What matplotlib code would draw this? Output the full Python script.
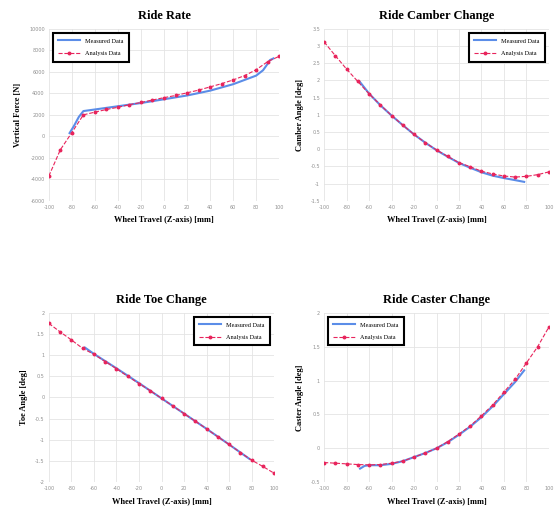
import matplotlib
matplotlib.use('Agg')
import matplotlib.pyplot as plt
import numpy as np

# Wheel travel for the analysis points (every 10 mm)
travel = [-100, -90, -80, -70, -60, -50, -40, -30, -20, -10, 0,
          10, 20, 30, 40, 50, 60, 70, 80, 90, 100]

# Ride rate
rate_analysis = [-3700, -1250, 350, 2000, 2250, 2500, 2700, 2950, 3150, 3380, 3600,
                 3800, 4050, 4300, 4600, 4900, 5250, 5650, 6200, 6950, 7450]
rate_meas_x = [-82, -78, -74, -70, -60, -40, -20, 0, 20, 40, 60, 80, 86, 89, 92, 95]
rate_meas_y = [300, 1000, 1800, 2350, 2500, 2800, 3100, 3450, 3800, 4250, 4850, 5650, 6150, 6600, 7100, 7250]

# Camber
camber_analysis = [3.12, 2.72, 2.33, 1.97, 1.61, 1.29, 0.98, 0.70, 0.43, 0.19, -0.02,
                   -0.21, -0.39, -0.51, -0.64, -0.72, -0.78, -0.81, -0.79, -0.74, -0.66]
camber_meas_x = [-68, -60, -50, -40, -30, -20, -10, 0, 10, 20, 30, 40, 50, 60, 70, 78]
camber_meas_y = [1.95, 1.62, 1.28, 0.98, 0.70, 0.43, 0.19, -0.03, -0.22, -0.40, -0.54, -0.67, -0.77, -0.84, -0.90, -0.95]

# Toe
toe_analysis = [1.75, 1.55, 1.36, 1.16, 1.02, 0.85, 0.68, 0.50, 0.33, 0.16, -0.02,
                -0.20, -0.38, -0.56, -0.74, -0.93, -1.11, -1.30, -1.48, -1.63, -1.79]
toe_meas_x = [-68, -60, -40, -20, 0, 20, 40, 60, 78]
toe_meas_y = [1.18, 1.03, 0.69, 0.34, -0.02, -0.38, -0.74, -1.11, -1.45]

# Caster
caster_analysis = [-0.21, -0.22, -0.23, -0.24, -0.245, -0.24, -0.22, -0.19, -0.13, -0.07, 0.0,
                   0.10, 0.21, 0.33, 0.48, 0.64, 0.83, 1.02, 1.26, 1.50, 1.79]
caster_meas_x = [-68, -64, -60, -50, -40, -30, -20, -10, 0, 10, 20, 30, 40, 50, 60, 70, 78]
caster_meas_y = [-0.30, -0.26, -0.25, -0.25, -0.23, -0.19, -0.13, -0.07, 0.0, 0.09, 0.20, 0.32, 0.46, 0.62, 0.80, 0.98, 1.15]

blue = '#5b8de8'
red = '#e8245c'
serif = ['Liberation Serif', 'DejaVu Serif']
plt.rcParams['axes.unicode_minus'] = False

fig = plt.figure(figsize=(5.55, 5.07), dpi=100)

panels = [
    # title, ylabel, analysis, meas x, meas y, ylim, ystep, legend loc, axes rect
    ('Ride Rate', 'Vertical Force [N]', rate_analysis, rate_meas_x, rate_meas_y,
     (-6000, 10000), 2000, 'upper left', [0.088, 0.604, 0.415, 0.339]),
    ('Ride Camber Change', 'Camber Angle [deg]', camber_analysis, camber_meas_x, camber_meas_y,
     (-1.5, 3.5), 0.5, 'upper right', [0.584, 0.604, 0.405, 0.339]),
    ('Ride Toe Change', 'Toe Angle [deg]', toe_analysis, toe_meas_x, toe_meas_y,
     (-2, 2), 0.5, 'upper right', [0.088, 0.049, 0.406, 0.334]),
    ('Ride Caster Change', 'Caster Angle [deg]', caster_analysis, caster_meas_x, caster_meas_y,
     (-0.5, 2), 0.5, 'upper left', [0.584, 0.049, 0.405, 0.334]),
]

for title, ylab, ana, mx, my, ylim, ystep, loc, rect in panels:
    ax = fig.add_axes(rect)
    ax.plot(mx, my, color=blue, lw=1.5, label='Measured Data')
    ax.plot(travel, ana, color=red, lw=0.8, ls='--', marker='o', ms=1.8,
            label='Analysis Data')
    ax.set_xlim(-100, 100)
    ax.set_ylim(*ylim)
    ax.set_xticks(np.arange(-100, 101, 20))
    ax.set_yticks(np.arange(ylim[0], ylim[1] + ystep / 2, ystep))
    ax.yaxis.set_major_formatter(plt.FuncFormatter(lambda v, p: '%g' % v))
    ax.grid(True, color='#e4e4e4', lw=0.6)
    ax.set_axisbelow(True)
    for s in ax.spines.values():
        s.set_visible(False)
    ax.tick_params(length=0, labelsize=3.5, labelcolor='#909090', pad=3)
    ax.set_title(title, fontsize=9, fontweight='bold', family=serif, pad=7)
    ax.set_xlabel('Wheel Travel (Z-axis) [mm]', fontsize=6, fontweight='bold',
                  family=serif, labelpad=4)
    ax.set_ylabel(ylab, fontsize=6, fontweight='bold', family=serif, labelpad=5)
    leg = ax.legend(loc=loc, prop={'family': serif, 'size': 4.5}, fancybox=False,
                    framealpha=1, edgecolor='black', handlelength=3.5,
                    borderpad=0.9, labelspacing=1.1, borderaxespad=0.6)
    leg.get_frame().set_linewidth(1.5)

fig.savefig('out.png', dpi=100)
